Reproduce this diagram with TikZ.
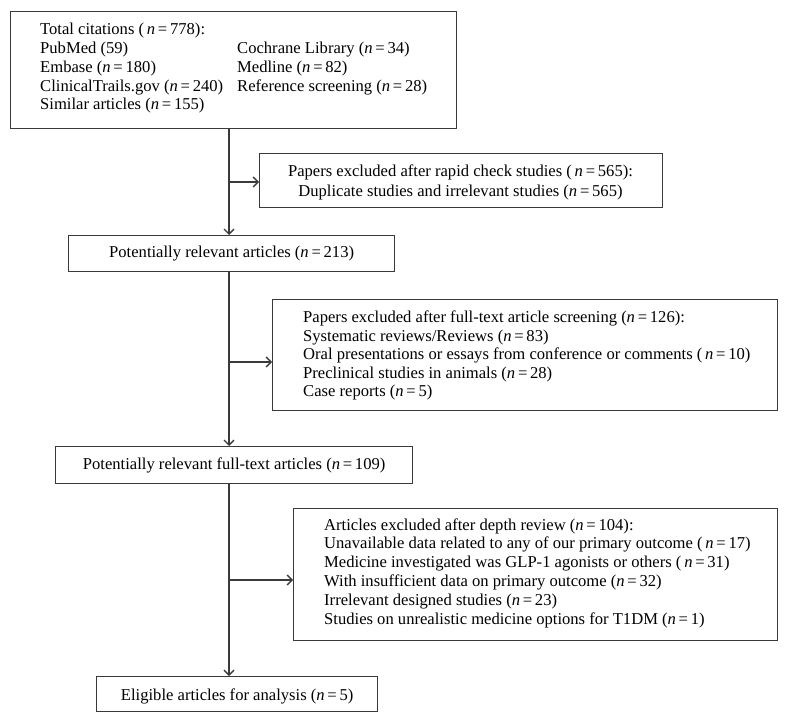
\documentclass[tikz,border=0pt]{standalone}
\usepackage{fontspec}
\setmainfont{Liberation Serif}
\usetikzlibrary{arrows.meta}
\definecolor{linegray}{HTML}{3A3A3A}
\newcommand{\nn}[1]{\textit{n}\,=\,#1}
\tikzset{
  box/.style={draw=linegray, line width=1.3pt, rectangle, inner sep=0pt, anchor=north west},
  txt/.style={inner sep=0pt, anchor=base west, font=\fontsize{16.6}{19}\selectfont},
  ctxt/.style={inner sep=0pt, anchor=base, font=\fontsize{16.6}{19}\selectfont},
  coltxt/.style={inner sep=0pt, anchor=base west, text width=190pt, align=flush left,
    font=\fontsize{16.6}{18.7}\selectfont, execute at begin node={\lineskiplimit=-20pt\relax}},
  flow/.style={draw=linegray, line width=1.3pt},
  arr/.style={flow, -{Straight Barb[length=5pt,width=10pt]}}
}
\begin{document}
\begin{tikzpicture}[x=1pt,y=-1pt]
\useasboundingbox (0,0) rectangle (788,722);
% boxes
\node[box, minimum width=446pt, minimum height=117pt] (b1) at (10,11) {};
\node[box, minimum width=403pt, minimum height=54pt] (b2) at (259,153) {};
\node[box, minimum width=326pt, minimum height=36pt] (b3) at (68,235) {};
\node[box, minimum width=505pt, minimum height=111pt] (b4) at (272,299) {};
\node[box, minimum width=357pt, minimum height=37pt] (b5) at (55,446) {};
\node[box, minimum width=484pt, minimum height=132pt] (b6) at (293,508) {};
\node[box, minimum width=281pt, minimum height=35pt] (b7) at (96,676) {};
% texts
\node[coltxt] (t1a) at (40,35) {Total citations (\,\nn{778}):\\
PubMed (59)\\
Embase (\nn{180})\\
ClinicalTrails.gov (\nn{240})\\
Similar articles (\nn{155})};
\node[coltxt] (t1b) at (237,53.7) {Cochrane Library (\nn{34})\\
Medline (\nn{82})\\
Reference screening (\nn{28})};
\node[ctxt] (t2) at (460.5,177) {\fontsize{16.6}{20}\selectfont\begin{tabular}[t]{@{}c@{}}
Papers excluded after rapid check studies (\,\nn{565}):\\
Duplicate studies and irrelevant studies (\nn{565})
\end{tabular}};
\node[ctxt] (t3) at (b3.center |- 0,258) {Potentially relevant articles (\nn{213})};
\node[txt] (t4) at (303,323) {\fontsize{16.6}{18.5}\selectfont\begin{tabular}[t]{@{}l@{}}
Papers excluded after full-text article screening (\nn{126}):\\
Systematic reviews/Reviews (\nn{83})\\
Oral presentations or essays from conference or comments (\,\nn{10})\\
Preclinical studies in animals (\nn{28})\\
Case reports (\nn{5})
\end{tabular}};
\node[ctxt] (t5) at (b5.center |- 0,469) {Potentially relevant full-text articles (\nn{109})};
\node[txt] (t6) at (324,530) {\fontsize{16.6}{18.8}\selectfont\begin{tabular}[t]{@{}l@{}}
Articles excluded after depth review (\nn{104}):\\
Unavailable data related to any of our primary outcome (\,\nn{17})\\
Medicine investigated was GLP-1 agonists or others (\,\nn{31})\\
With insufficient data on primary outcome (\nn{32})\\
Irrelevant designed studies (\nn{23})\\
Studies on unrealistic medicine options for T1DM (\nn{1})
\end{tabular}};
\node[ctxt] (t7) at (b7.center |- 0,700) {Eligible articles for analysis (\nn{5})};
% connectors
\coordinate (sp) at (229,0);
\coordinate (j1) at (229,182);
\coordinate (j2) at (229,362);
\coordinate (j3) at (229,580);
\draw[arr] (b1.south -| sp) -- (b3.north -| sp);
\draw[arr] (j1) -- (j1 -| b2.west);
\draw[arr] (b3.south -| sp) -- (b5.north -| sp);
\draw[arr] (j2) -- (j2 -| b4.west);
\draw[arr] (b5.south -| sp) -- (b7.north -| sp);
\draw[arr] (j3) -- (j3 -| b6.west);
\end{tikzpicture}
\end{document}
